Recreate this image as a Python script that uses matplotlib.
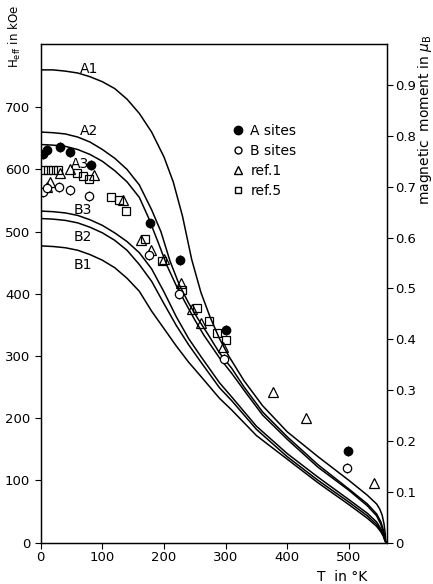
import matplotlib
matplotlib.use("Agg")
import matplotlib.pyplot as plt
from matplotlib.lines import Line2D

plt.rcParams['font.family'] = ['DejaVu Sans']
plt.rcParams['mathtext.fontset'] = 'dejavusans'

# theoretical curves (T in K, H in kOe)
A1_T = [0, 20, 40, 60, 80, 100, 120, 140, 160, 180, 200, 215, 230, 245, 260, 275, 290, 305, 330, 360, 400, 450, 500, 530, 545, 550, 554, 557, 559, 560]
A1_H = [760, 760, 758, 755, 749, 741, 730, 713, 690, 660, 620, 580, 525, 455, 402, 362, 328, 300, 260, 220, 178, 138, 100, 76, 62, 54, 44, 30, 14, 0]

A2_T = [0, 20, 40, 60, 80, 100, 120, 140, 160, 180, 195, 210, 225, 240, 255, 270, 290, 310, 330, 360, 400, 450, 500, 530, 545, 552, 556, 558, 560]
A2_H = [660, 659, 657, 652, 644, 632, 618, 600, 575, 535, 500, 452, 414, 385, 360, 337, 305, 280, 250, 210, 170, 125, 86, 62, 46, 33, 20, 10, 0]

A3_T = [0, 20, 40, 60, 80, 100, 120, 140, 160, 175, 190, 205, 220, 235, 250, 265, 290, 310, 335, 360, 400, 450, 500, 530, 545, 552, 556, 558, 560]
A3_H = [640, 639, 637, 632, 624, 613, 598, 580, 555, 522, 484, 445, 413, 385, 358, 333, 297, 272, 238, 205, 166, 121, 84, 59, 43, 29, 17, 8, 0]

Bc_T = [0, 20, 40, 60, 80, 100, 120, 140, 160, 180, 200, 220, 240, 260, 290, 310, 350, 400, 450, 500, 530, 545, 552, 556, 558, 560]
B3_H = [533, 532, 530, 526, 519, 510, 498, 484, 466, 440, 403, 363, 328, 299, 257, 234, 187, 143, 105, 69, 47, 33, 22, 13, 6, 0]
B2_H = [521, 520, 518, 514, 507, 498, 486, 470, 447, 420, 384, 349, 318, 290, 249, 228, 182, 138, 100, 65, 43, 29, 19, 11, 5, 0]
B1_H = [477, 476, 474, 470, 463, 454, 442, 425, 404, 372, 344, 316, 290, 267, 232, 213, 172, 134, 96, 61, 39, 26, 17, 10, 4, 0]

curve_names = ['A1', 'A2', 'A3', 'B3', 'B2', 'B1']
label_T = [79, 79, 63, 69, 69, 69]
label_H = [762, 661, 609, 535, 492, 446]

# measured points
A_T = [3, 11, 31, 47, 81, 178, 226, 300, 498]
A_H = [625, 631, 636, 628, 607, 513, 455, 341, 147]

B_T = [3, 10, 30, 47, 78, 176, 224, 298, 497]
B_H = [564, 570, 572, 567, 557, 462, 399, 295, 120]

r1_T = [10, 15, 32, 48, 87, 133, 162, 179, 200, 228, 246, 260, 296, 377, 431, 541]
r1_H = [572, 580, 594, 601, 591, 551, 486, 470, 456, 417, 376, 353, 314, 242, 200, 96]

r5_T = [4, 12, 20, 28, 59, 69, 78, 114, 127, 139, 170, 196, 230, 253, 273, 286, 300]
r5_H = [599, 599, 599, 599, 594, 589, 584, 556, 551, 533, 488, 453, 406, 377, 356, 337, 325]

mu_ticks = [0, 0.1, 0.2, 0.3, 0.4, 0.5, 0.6, 0.7, 0.8, 0.9]
mu_labels = ['0', '0.1', '0.2', '0.3', '0.4', '0.5', '0.6', '0.7', '0.8', '0.9']

fig = plt.figure(figsize=(4.33, 5.84), dpi=100)
ax = fig.add_axes([0.094, 0.071, 0.800, 0.853])

lw = 1.1
ax.plot(A1_T, A1_H, color='black', lw=lw)
ax.plot(A2_T, A2_H, color='black', lw=lw)
ax.plot(A3_T, A3_H, color='black', lw=lw)
ax.plot(Bc_T, B3_H, color='black', lw=lw)
ax.plot(Bc_T, B2_H, color='black', lw=lw)
ax.plot(Bc_T, B1_H, color='black', lw=lw)

for name, t, h in zip(curve_names, label_T, label_H):
    ax.text(t, h, name, fontsize=10, ha='center', va='center')

ax.errorbar(A_T, A_H, yerr=8, fmt='o', ms=6, mfc='black', mec='black',
            ecolor='black', elinewidth=0.8, capsize=0)
ax.errorbar(B_T, B_H, yerr=8, fmt='o', ms=6, mfc='white', mec='black',
            ecolor='black', elinewidth=0.8, capsize=0, mew=0.9)
ax.plot(r1_T, r1_H, '^', ms=7, mfc='none', mec='black', mew=0.9)
ax.plot(r5_T, r5_H, 's', ms=5.5, mfc='none', mec='black', mew=0.9)

ax.set_xlim(0, 562)
ax.set_ylim(0, 801)
ax.set_xticks([0, 100, 200, 300, 400, 500])
ax.set_yticks([0, 100, 200, 300, 400, 500, 600, 700])
ax.tick_params(direction='out', length=4, width=0.8, labelsize=9.5)
ax.tick_params(axis='x', pad=2)

ax2 = ax.twinx()
ax2.set_ylim(0, 0.98)
ax2.set_yticks(mu_ticks)
ax2.set_yticklabels(mu_labels)
ax2.tick_params(direction='out', length=4, width=0.8, labelsize=9.5, pad=2)

for a in (ax, ax2):
    for s in a.spines.values():
        s.set_linewidth(0.9)

handles = [
    Line2D([], [], ls='none', marker='o', ms=6, mfc='black', mec='black'),
    Line2D([], [], ls='none', marker='o', ms=5, mfc='white', mec='black'),
    Line2D([], [], ls='none', marker='^', ms=6, mfc='none', mec='black'),
    Line2D([], [], ls='none', marker='s', ms=4.5, mfc='none', mec='black'),
]
ax.legend(handles, ['A sites', 'B sites', 'ref.1', 'ref.5'], loc='upper left',
          bbox_to_anchor=(0.533, 0.855), frameon=False, fontsize=10,
          handlelength=0.8, handletextpad=0.5, labelspacing=0.45, borderpad=0)

fig.text(0.035, 0.938, 'H$_{\\rm eff}$ in kOe', rotation=90, ha='center', va='center', fontsize=8.5)
fig.text(0.982, 0.795, 'magnetic  moment in $\\mu_{\\rm B}$', rotation=90,
         ha='center', va='center', fontsize=10)
fig.text(0.79, 0.012, 'T  in °K', ha='center', va='center', fontsize=10)

fig.savefig('out.png', dpi=100)
